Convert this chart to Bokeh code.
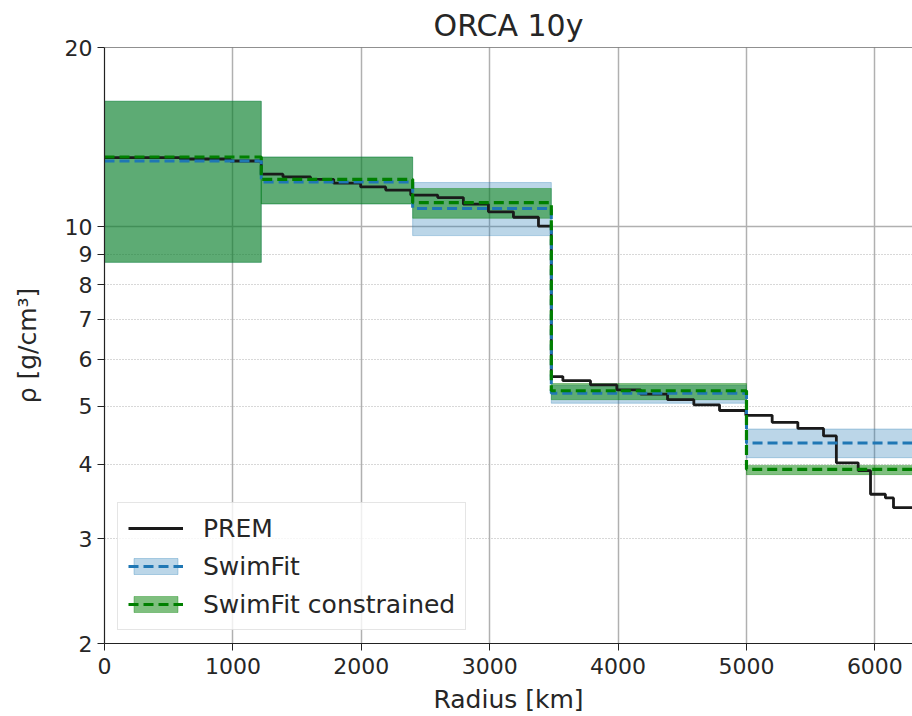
from bokeh.plotting import figure
from bokeh.models import Range1d, FixedTicker, Grid, Span, Legend, LegendItem, PrintfTickFormatter
from bokeh.embed import file_html
from bokeh.resources import INLINE

# ---------------- data ----------------
# layer boundaries of the fitted model [km]
layer_edges = [0, 1221, 2400, 3480, 5000, 6371]

# SwimFit (unconstrained) mean and band per layer [g/cm^3]
swim_mean = [12.9, 11.9, 10.74, 5.26, 4.34]
swim_lo = [8.72, 10.93, 9.67, 5.06, 4.10]
swim_hi = [16.25, 13.1, 11.87, 5.42, 4.58]

# SwimFit constrained mean and band per layer [g/cm^3]
con_mean = [13.1, 12.02, 10.98, 5.31, 3.92]
con_lo = [8.72, 10.93, 10.34, 5.13, 3.84]
con_hi = [16.25, 13.1, 11.6, 5.46, 3.98]

# PREM density (step start radius [km], density [g/cm^3])
prem_r = [0, 590, 980, 1221, 1390, 1605, 1785, 1995, 2190, 2385, 2595, 2795,
          2990, 3185, 3380, 3480, 3570, 3785, 3990, 4175, 4385, 4590, 4790,
          4995, 5200, 5400, 5600, 5700, 5870, 5966, 6082, 6145, 6371]
prem_rho = [13.07, 13.0, 12.9, 12.26, 12.13, 12.02, 11.84, 11.67, 11.53, 11.31,
            11.2, 10.92, 10.6, 10.38, 10.03, 5.61, 5.52, 5.43, 5.33, 5.24, 5.13,
            5.03, 4.92, 4.83, 4.70, 4.59, 4.46, 4.02, 3.90, 3.56, 3.51, 3.38, 3.38]

x_ticks = [0, 1000, 2000, 3000, 4000, 5000, 6000]
y_ticks = [2, 3, 4, 5, 6, 7, 8, 9, 10, 20]
y_major_grid = [10]
y_minor_grid = [3, 4, 5, 6, 7, 8, 9]

FONT = "DejaVu Sans"
TXT = "#262626"

p = figure(width=912, height=716, y_axis_type="log",
           x_range=Range1d(0, 6293), y_range=Range1d(2, 20),
           output_backend="svg", toolbar_location=None,
           min_border_left=104, min_border_right=0, min_border_top=46,
           min_border_bottom=10, title="ORCA 10y")
p.outline_line_color = None
p.background_fill_color = "white"

p.title.align = "center"
p.title.text_font = FONT
p.title.text_font_size = "30px"
p.title.text_font_style = "normal"
p.title.text_color = TXT

for ax in (p.xaxis[0], p.yaxis[0]):
    ax.axis_line_color = "#222222"
    ax.axis_line_width = 1.2
    ax.major_tick_line_color = "#222222"
    ax.major_tick_out = 7
    ax.major_tick_in = 0
    ax.minor_tick_line_color = None
    ax.major_label_text_font = FONT
    ax.major_label_text_font_size = "22px"
    ax.major_label_text_color = TXT
    ax.axis_label_text_font = FONT
    ax.axis_label_text_font_size = "25px"
    ax.axis_label_text_font_style = "normal"
    ax.axis_label_text_color = TXT

p.xaxis.ticker = FixedTicker(ticks=x_ticks)
p.yaxis.ticker = FixedTicker(ticks=y_ticks)
p.yaxis.formatter = PrintfTickFormatter(format="%d")
p.xaxis.axis_label = "Radius [km]"
p.yaxis.axis_label = "ρ [g/cm³]"
p.xaxis.major_label_standoff = 7
p.yaxis.major_label_standoff = 5
p.yaxis.axis_label_standoff = 20
p.xaxis.axis_label_standoff = 8

p.xgrid.ticker = FixedTicker(ticks=x_ticks)
p.xgrid.grid_line_color = "#b0b0b0"
p.xgrid.grid_line_width = 1.5
p.ygrid.ticker = FixedTicker(ticks=y_major_grid)
p.ygrid.grid_line_color = "#b0b0b0"
p.ygrid.grid_line_width = 1.5
minor_grid = Grid(dimension=1, ticker=FixedTicker(ticks=y_minor_grid),
                  grid_line_color="#b0b0b0", grid_line_width=1,
                  grid_line_dash="1 2")
p.add_layout(minor_grid)

top_spine = Span(location=20, dimension="width", line_color="#222222", line_width=1.2)
p.add_layout(top_spine)

left = layer_edges[:-1]
right = layer_edges[1:]
BLUE = "#1f77b4"
GREEN = "#008000"

swim_band = p.quad(left=left, right=right, bottom=swim_lo, top=swim_hi,
                   fill_color=BLUE, fill_alpha=0.3, line_color=BLUE, line_alpha=0.3)
con_band = p.quad(left=left, right=right, bottom=con_lo, top=con_hi,
                  fill_color=GREEN, fill_alpha=0.5, line_color=GREEN, line_alpha=0.35)

prem = p.step(prem_r, prem_rho, mode="after", line_color="#1a1a1a", line_width=2.8)

step_x = layer_edges
swim_line = p.step(step_x, swim_mean + [swim_mean[-1]], mode="after",
                   line_color=BLUE, line_width=3, line_dash="10 5")
con_line = p.step(step_x, con_mean + [con_mean[-1]], mode="after",
                  line_color=GREEN, line_width=3.2, line_dash="10 5")

legend = Legend(items=[
    LegendItem(label="PREM", renderers=[prem]),
    LegendItem(label="SwimFit", renderers=[swim_band, swim_line]),
    LegendItem(label="SwimFit constrained", renderers=[con_band, con_line]),
], location="bottom_left")
legend.margin = 13
legend.padding = 10
legend.spacing = 8
legend.glyph_width = 55
legend.glyph_height = 20
legend.label_height = 30
legend.label_standoff = 20
legend.label_text_font = FONT
legend.label_text_font_size = "25px"
legend.label_text_color = TXT
legend.border_line_color = "#cccccc"
legend.border_line_width = 1.5
legend.background_fill_alpha = 0.8
p.add_layout(legend)

open("out.html", "w").write(file_html(p, INLINE))
